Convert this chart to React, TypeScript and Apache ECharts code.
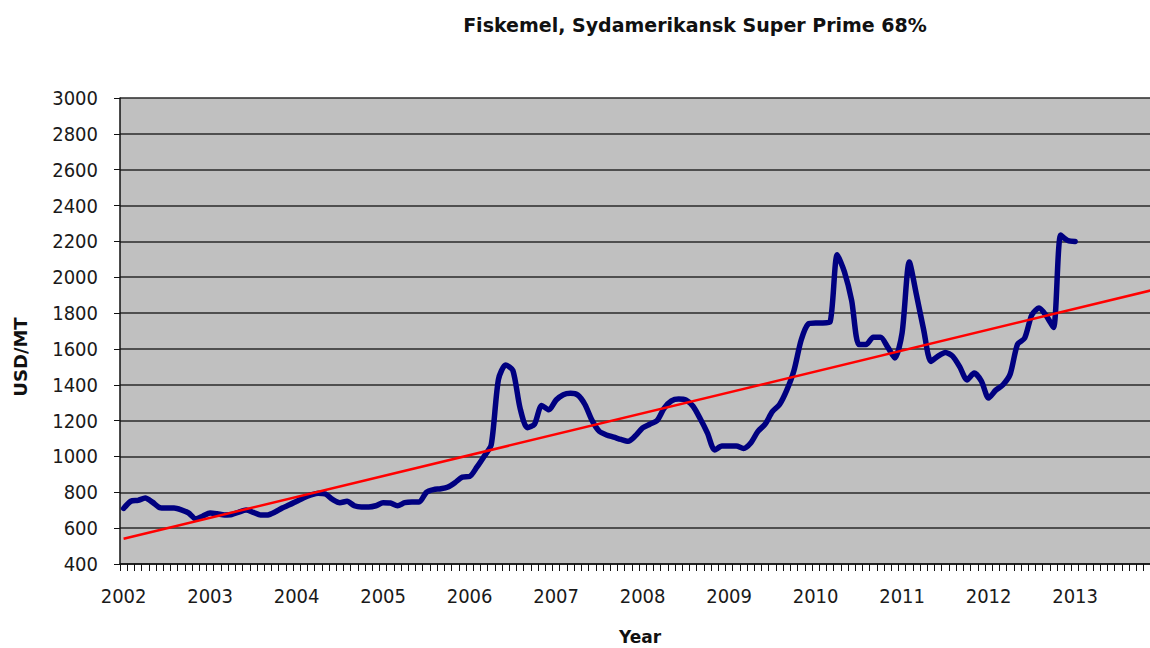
import React, { useEffect, useRef } from "react";
import * as echarts from "echarts";

const years = ["2002", "2003", "2004", "2005", "2006", "2007", "2008", "2009", "2010", "2011", "2012", "2013"];
const monthNums = ["01", "02", "03", "04", "05", "06", "07", "08", "09", "10", "11", "12"];
const months: string[] = [];
years.forEach((y) => monthNums.forEach((m) => months.push(`${y}-${m}`)));

// Monthly price, USD/MT, Jan 2002 - Jan 2013
const price = [
  710, 750, 755, 768, 745, 715, 712, 712, 702, 685, 652, 668,
  684, 680, 674, 676, 690, 701, 688, 673, 674, 690, 712, 730,
  750, 770, 785, 795, 790, 760, 742, 750, 725, 718, 718, 725,
  742, 740, 725, 742, 746, 746, 800, 815, 820, 830, 855, 885,
  888, 940, 1000, 1065, 1430, 1510, 1480, 1270, 1160, 1180, 1285, 1260,
  1315, 1345, 1352, 1343, 1290, 1200, 1140, 1120, 1108, 1095, 1085, 1115,
  1160, 1180, 1200, 1270, 1310, 1320, 1315, 1280, 1210, 1130, 1036, 1058,
  1058, 1058, 1045, 1075, 1140, 1180, 1250, 1290, 1370, 1480, 1650, 1740,
  1745, 1745, 1750, 2125, 2030, 1870, 1625, 1625, 1665, 1665, 1610, 1550,
  1690, 2085, 1900, 1705, 1530, 1560, 1580, 1560, 1500, 1427, 1465, 1420,
  1326, 1370, 1400, 1460, 1625, 1660, 1790, 1828, 1785, 1720, 2235, 2205,
  2200,
];

// Linear trend line end points (first and last month of the axis)
const trendStart = 541;
const trendEnd = 1931;

const yTicks = { min: 400, max: 3000, interval: 200 };

export default function App() {
  const ref = useRef<HTMLDivElement>(null);

  useEffect(() => {
    document.body.style.margin = "0";
    const chart = echarts.init(ref.current!, null, { renderer: "svg" });
    const font = "'DejaVu Sans Condensed', 'DejaVu Sans', sans-serif";
    chart.setOption({
      animation: false,
      backgroundColor: "#ffffff",
      grid: {
        left: 120,
        top: 98,
        height: 466,
        width: 1038,
        show: true,
        backgroundColor: "#c0c0c0",
        borderWidth: 0,
      },
      xAxis: {
        type: "category",
        data: months,
        boundaryGap: true,
        axisLine: { show: true, lineStyle: { color: "#111", width: 1.5 } },
        axisTick: { show: true, interval: 0, length: 7, lineStyle: { color: "#111", width: 1 } },
        axisLabel: {
          interval: 11,
          formatter: (v: string) => v.slice(0, 4),
          fontFamily: font,
          fontSize: 20,
          color: "#1a1a1a",
          margin: 22,
        },
        splitLine: { show: false },
      },
      yAxis: {
        type: "value",
        min: yTicks.min,
        max: yTicks.max,
        interval: yTicks.interval,
        axisLine: { show: true, lineStyle: { color: "#111", width: 1.5 } },
        axisTick: { show: true, length: 6, lineStyle: { color: "#111", width: 1 } },
        axisLabel: {
          fontFamily: font,
          fontSize: 20,
          color: "#1a1a1a",
          margin: 22,
          formatter: (v: number) => String(v),
        },
        splitLine: { show: true, lineStyle: { color: "#2a2a2a", width: 1.6 } },
      },
      series: [
        {
          type: "line",
          data: price,
          symbol: "none",
          smooth: 0.25,
          lineStyle: { color: "#000080", width: 5.5, cap: "round", join: "round" },
          z: 3,
        },
        {
          type: "line",
          data: [
            [months[0], trendStart],
            [months[months.length - 1], trendEnd],
          ],
          symbol: "none",
          lineStyle: { color: "#ff0000", width: 2.5 },
          z: 4,
        },
      ],
      graphic: [
        {
          type: "text",
          x: 695,
          y: 25,
          style: {
            text: "Fiskemel, Sydamerikansk Super Prime 68%",
            font: "bold 19px 'DejaVu Sans', sans-serif",
            fill: "#111",
            textAlign: "center",
            textVerticalAlign: "middle",
          },
        },
        {
          type: "text",
          x: 20,
          y: 357,
          rotation: Math.PI / 2,
          style: {
            text: "USD/MT",
            font: "bold 18px 'DejaVu Sans', sans-serif",
            fill: "#111",
            textAlign: "center",
            textVerticalAlign: "middle",
          },
        },
        {
          type: "text",
          x: 640,
          y: 637,
          style: {
            text: "Year",
            font: "bold 17px 'DejaVu Sans', sans-serif",
            fill: "#111",
            textAlign: "center",
            textVerticalAlign: "middle",
          },
        },
      ],
    });
    return () => chart.dispose();
  }, []);

  return (
    <div style={{ position: "absolute", left: 0, top: 0, width: 1150, height: 648, overflow: "hidden" }}>
      <div ref={ref} style={{ width: 1170, height: 648 }} />
    </div>
  );
}
